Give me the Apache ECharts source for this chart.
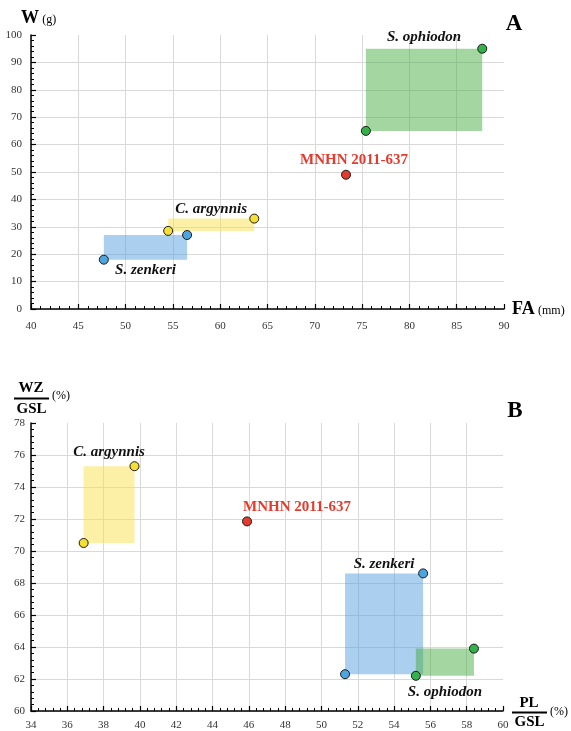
<!DOCTYPE html>
<html>
<head>
<meta charset="utf-8">
<script src="https://cdn.jsdelivr.net/npm/echarts@6/dist/echarts.min.js"></script>
<style>
html,body{margin:0;padding:0;background:#fff;}
#chart{width:571px;height:731px;}
</style>
</head>
<body>
<div id="chart"></div>
<script>
// ---- data ----
const speciesNames = ['S. zenkeri', 'C. argynnis', 'S. ophiodon'];
const specimenName = 'MNHN 2011-637';

// Panel A: FA (mm) vs W (g) — two extreme points per species
const panelA_zenkeri  = [[47.7, 18], [56.5, 27]];
const panelA_argynnis = [[54.5, 28.5], [63.6, 33]];
const panelA_ophiodon = [[75.4, 65], [87.7, 95]];
const panelA_specimen = [73.3, 49];

// Panel B: PL/GSL (%) vs WZ/GSL (%)
const panelB_zenkeri  = [[51.3, 62.3], [55.6, 68.6]];
const panelB_argynnis = [[36.9, 70.5], [39.7, 75.3]];
const panelB_ophiodon = [[55.2, 62.2], [58.4, 63.9]];
const panelB_specimen = [45.9, 71.85];

// axis ranges
const axisA_x = {min: 40, max: 90, interval: 5};
const axisA_y = {min: 0, max: 100, interval: 10};
const axisB_x = {min: 34, max: 60, interval: 2};
const axisB_y = {min: 60, max: 78, interval: 2};

// ---- styles ----
const FONT = "'Liberation Serif', 'Times New Roman', serif";
const pointColors = {zenkeri: '#4ca5df', argynnis: '#f5df35', ophiodon: '#34b14a', specimen: '#e53a2d'};
const rectColors = {zenkeri: 'rgba(87,159,221,0.5)', argynnis: 'rgba(247,225,77,0.5)', ophiodon: 'rgba(71,173,65,0.5)'};

function makeAxis(r, gridIndex, isX, labelMargin) {
  return {
    type: 'value', gridIndex: gridIndex, min: r.min, max: r.max, interval: r.interval,
    axisLine: {show: true, onZero: false, lineStyle: {color: '#000', width: 1.5}},
    axisTick: {show: true, inside: true, length: 5, lineStyle: {color: '#000', width: 1.2}},
    minorTick: {show: true, splitNumber: 5, length: 3, lineStyle: {color: '#000', width: 1}},
    axisLabel: {color: '#333', fontFamily: FONT, fontSize: 11, margin: labelMargin},
    splitLine: {show: true, showMaxLine: false, lineStyle: {color: '#d9d9d9', width: 1}}
  };
}

function rectSeries(pts, xi, color, name, pos, dist) {
  return {
    type: 'scatter', xAxisIndex: xi, yAxisIndex: xi, data: [], z: 1, silent: true,
    markArea: {
      silent: true,
      itemStyle: {color: color, borderWidth: 0},
      label: {show: true, position: pos, distance: dist, formatter: name,
        color: '#111', fontFamily: FONT, fontSize: 15, fontWeight: 'bold', fontStyle: 'italic'},
      data: [[{coord: pts[0]}, {coord: pts[1]}]]
    }
  };
}

function pointSeries(pts, xi, color, label) {
  return {
    type: 'scatter', xAxisIndex: xi, yAxisIndex: xi, data: pts, z: 5,
    symbolSize: 9,
    itemStyle: {color: color, borderColor: '#1a1a1a', borderWidth: 1, opacity: 1},
    label: label || {show: false}
  };
}

const specimenLabel = (offset, dist) => ({
  show: true, position: 'top', distance: dist, offset: offset, formatter: specimenName,
  color: pointColors.specimen, fontFamily: FONT, fontSize: 15, fontWeight: 'bold'
});

const chart = echarts.init(document.getElementById('chart'), null, {renderer: 'canvas'});

const option = {
  backgroundColor: '#fff',
  animation: false,
  grid: [
    {left: 31, top: 35, width: 473, height: 274},
    {left: 31, top: 423, width: 472, height: 289}
  ],
  xAxis: [makeAxis(axisA_x, 0, true, 12), makeAxis(axisB_x, 1, true, 9)],
  yAxis: [makeAxis(axisA_y, 0, false, 9), makeAxis(axisB_y, 1, false, 6)],
  series: [
    // Panel A
    rectSeries(panelA_zenkeri, 0, rectColors.zenkeri, speciesNames[0], 'bottom', 3),
    rectSeries(panelA_argynnis, 0, rectColors.argynnis, speciesNames[1], 'top', 2),
    rectSeries(panelA_ophiodon, 0, rectColors.ophiodon, speciesNames[2], 'top', 4),
    pointSeries(panelA_zenkeri, 0, pointColors.zenkeri),
    pointSeries(panelA_argynnis, 0, pointColors.argynnis),
    pointSeries(panelA_ophiodon, 0, pointColors.ophiodon),
    pointSeries([panelA_specimen], 0, pointColors.specimen, specimenLabel([8, 0], 2)),
    // Panel B
    rectSeries(panelB_zenkeri, 1, rectColors.zenkeri, speciesNames[0], 'top', 2),
    rectSeries(panelB_argynnis, 1, rectColors.argynnis, speciesNames[1], 'top', 7),
    rectSeries(panelB_ophiodon, 1, rectColors.ophiodon, speciesNames[2], 'bottom', 9),
    pointSeries(panelB_zenkeri, 1, pointColors.zenkeri),
    pointSeries(panelB_argynnis, 1, pointColors.argynnis),
    pointSeries(panelB_ophiodon, 1, pointColors.ophiodon),
    pointSeries([panelB_specimen], 1, pointColors.specimen, specimenLabel([50, 0], 2))
  ],
  graphic: [
    // Panel letters
    {type: 'text', x: 514, y: 24, style: {text: 'A', font: 'bold 23px ' + FONT, fill: '#000', textAlign: 'center', textVerticalAlign: 'middle'}},
    {type: 'text', x: 515, y: 411, style: {text: 'B', font: 'bold 23px ' + FONT, fill: '#000', textAlign: 'center', textVerticalAlign: 'middle'}},
    // Panel A axis titles
    {type: 'text', x: 21, y: 18, style: {text: '{b|W} {n|(g)}', textVerticalAlign: 'middle', fill: '#000',
      rich: {b: {font: 'bold 18px ' + FONT, fill: '#000'}, n: {font: '12px ' + FONT, fill: '#000', padding: [4, 0, 0, 0]}}}},
    {type: 'text', x: 512, y: 309, style: {text: '{b|FA} {n|(mm)}', textVerticalAlign: 'middle', fill: '#000',
      rich: {b: {font: 'bold 18px ' + FONT, fill: '#000'}, n: {font: '12px ' + FONT, fill: '#000', padding: [4, 0, 0, 0]}}}},
    // Panel B y title: WZ / GSL (%)
    {type: 'text', x: 31, y: 388, style: {text: 'WZ', font: 'bold 15px ' + FONT, fill: '#000', textAlign: 'center', textVerticalAlign: 'middle'}},
    {type: 'line', shape: {x1: 14, y1: 398.5, x2: 49, y2: 398.5}, style: {stroke: '#000', lineWidth: 2}},
    {type: 'text', x: 31.5, y: 409, style: {text: 'GSL', font: 'bold 15px ' + FONT, fill: '#000', textAlign: 'center', textVerticalAlign: 'middle'}},
    {type: 'text', x: 52, y: 396, style: {text: '(%)', font: '12px ' + FONT, fill: '#000', textAlign: 'left', textVerticalAlign: 'middle'}},
    // Panel B x title: PL / GSL (%)
    {type: 'text', x: 529, y: 703, style: {text: 'PL', font: 'bold 15px ' + FONT, fill: '#000', textAlign: 'center', textVerticalAlign: 'middle'}},
    {type: 'line', shape: {x1: 512, y1: 712.5, x2: 547, y2: 712.5}, style: {stroke: '#000', lineWidth: 2}},
    {type: 'text', x: 529.5, y: 722.5, style: {text: 'GSL', font: 'bold 15px ' + FONT, fill: '#000', textAlign: 'center', textVerticalAlign: 'middle'}},
    {type: 'text', x: 550, y: 712, style: {text: '(%)', font: '12px ' + FONT, fill: '#000', textAlign: 'left', textVerticalAlign: 'middle'}}
  ]
};

chart.setOption(option);
</script>
</body>
</html>
